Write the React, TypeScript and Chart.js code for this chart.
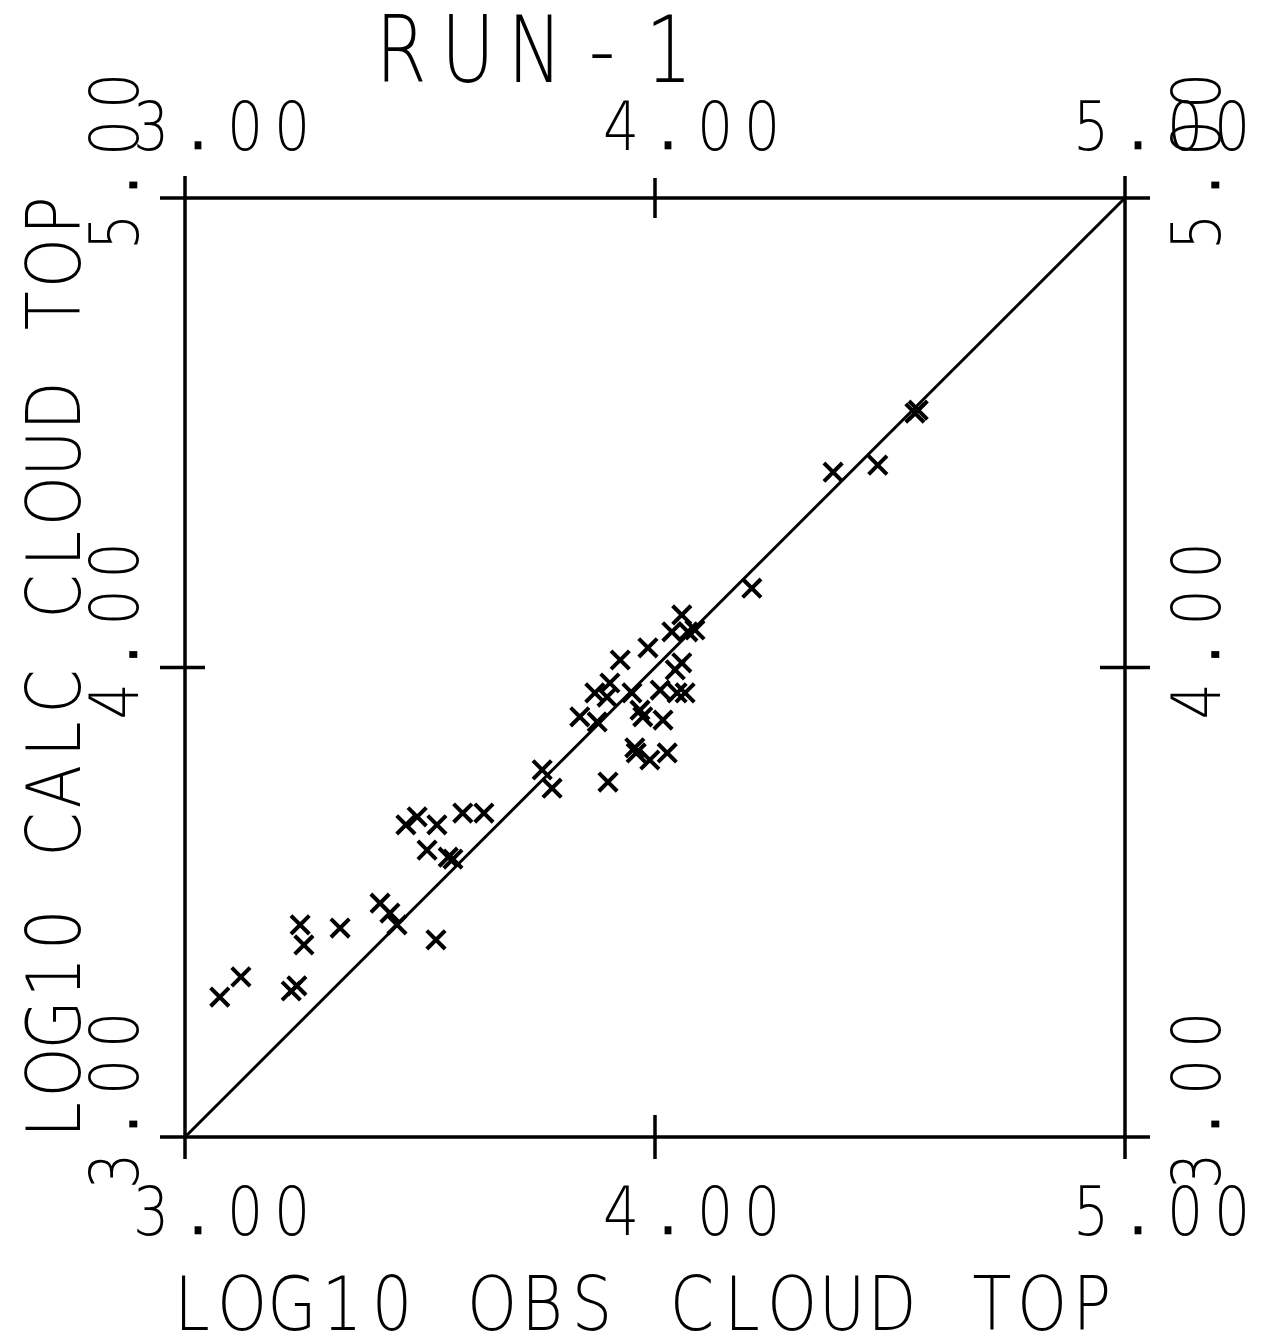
import React, { useEffect, useRef } from "react";
import { Chart, registerables } from "chart.js";

Chart.register(...registerables);

const TITLE = "RUN-1";
const X_TITLE = "LOG10 OBS CLOUD TOP";
const Y_TITLE = "LOG10 CALC CLOUD TOP";
const AXIS_MIN = 3;
const AXIS_MAX = 5;
const TICK_VALUES = [3, 4, 5];
const TICK_LABELS = ["3.00", "4.00", "5.00"];

const OBS_LOG10 = [
  3.074, 3.119, 3.226, 3.238, 3.245, 3.253, 3.33, 3.415, 3.436, 3.451,
  3.534, 3.47, 3.494, 3.536, 3.591, 3.636, 3.515, 3.56, 3.57, 3.76,
  3.781, 3.9, 3.84, 3.877, 3.872, 3.898, 3.904, 3.926, 3.951, 3.985,
  3.968, 3.974, 4.017, 4.011, 4.047, 4.064, 4.043, 4.057, 3.957, 3.96,
  3.989, 4.026, 4.036, 4.057, 4.07, 4.085, 4.206, 4.379, 4.474, 4.56,
  4.553,
];
const CALC_LOG10 = [
  3.298, 3.341, 3.311, 3.322, 3.452, 3.409, 3.445, 3.498, 3.477, 3.452,
  3.42, 3.665, 3.682, 3.665, 3.69, 3.69, 3.611, 3.596, 3.592, 3.782,
  3.743, 3.756, 3.895, 3.884, 3.946, 3.937, 3.967, 4.016, 3.946, 4.042,
  3.909, 3.895, 3.888, 3.952, 3.946, 3.946, 3.995, 4.01, 3.829, 3.818,
  3.803, 3.818, 4.076, 4.112, 4.076, 4.08, 4.169, 4.416, 4.431, 4.548,
  4.542,
];
const LINE_X = [3, 5];
const LINE_Y = [3, 5];

const FONT = "DejaVu Sans";

function drawSpaced(
  ctx: CanvasRenderingContext2D,
  text: string,
  ox: number,
  oy: number,
  pitch: number,
  size: number,
  rotated: boolean,
  squeeze: number
) {
  ctx.save();
  ctx.translate(ox, oy);
  if (rotated) ctx.rotate(-Math.PI / 2);
  ctx.font = `200 ${size}px "${FONT}"`;
  ctx.fillStyle = "#000";
  ctx.textAlign = "center";
  ctx.textBaseline = "alphabetic";
  for (let i = 0; i < text.length; i++) {
    const ch = text[i];
    if (ch === " ") continue;
    ctx.save();
    ctx.translate(i * pitch, 0);
    ctx.scale(squeeze, 1);
    if (ch === ".") {
      ctx.fillRect(-4, -size * 0.13, 8, 8);
    } else {
      ctx.fillText(ch, 0, 0);
    }
    ctx.restore();
  }
  ctx.restore();
}

const framePlugin = {
  id: "framePlugin",
  afterDraw(chart: any) {
    const ctx: CanvasRenderingContext2D = chart.ctx;
    const xs = chart.scales.x;
    const ys = chart.scales.y;
    const xL = xs.getPixelForValue(AXIS_MIN);
    const xR = xs.getPixelForValue(AXIS_MAX);
    const yT = ys.getPixelForValue(AXIS_MAX);
    const yB = ys.getPixelForValue(AXIS_MIN);
    ctx.save();
    ctx.strokeStyle = "#000";
    ctx.lineWidth = 3.5;
    ctx.lineCap = "butt";
    ctx.beginPath();
    // frame
    ctx.moveTo(xL - 25, yT);
    ctx.lineTo(xR + 23, yT);
    ctx.moveTo(xL - 25, yB);
    ctx.lineTo(xR + 23, yB);
    ctx.moveTo(xL, yT - 22);
    ctx.lineTo(xL, yB + 22);
    ctx.moveTo(xR, yT - 22);
    ctx.lineTo(xR, yB + 22);
    // ticks
    TICK_VALUES.forEach((v) => {
      const px = xs.getPixelForValue(v);
      ctx.moveTo(px, yT - 20);
      ctx.lineTo(px, yT + 20);
      ctx.moveTo(px, yB - 22);
      ctx.lineTo(px, yB + 22);
      const py = ys.getPixelForValue(v);
      ctx.moveTo(xL - 25, py);
      ctx.lineTo(xL + 20, py);
      ctx.moveTo(xR - 25, py);
      ctx.lineTo(xR + 25, py);
    });
    ctx.stroke();
    ctx.restore();

    // tick labels
    TICK_VALUES.forEach((v, i) => {
      const lab = TICK_LABELS[i];
      const px = xs.getPixelForValue(v);
      const py = ys.getPixelForValue(v);
      drawSpaced(ctx, lab, px - 34, yT - 48, 47, 67, false, 0.85);
      drawSpaced(ctx, lab, px - 34, yB + 98, 47, 67, false, 0.85);
      drawSpaced(ctx, lab, xL - 47, py + 34, 47, 67, true, 0.85);
      drawSpaced(ctx, lab, xR + 95, py + 34, 47, 67, true, 0.85);
    });

    // titles
    drawSpaced(ctx, TITLE, 401, 82, 67, 92, false, 0.8);
    drawSpaced(ctx, X_TITLE, 192, 1330, 50, 75, false, 0.85);
    drawSpaced(ctx, Y_TITLE, 80, 1120, 47.6, 75, true, 0.85);
  },
};

export default function App() {
  const ref = useRef<HTMLCanvasElement | null>(null);
  useEffect(() => {
    if (!ref.current) return;
    const points = OBS_LOG10.map((x, i) => ({ x, y: CALC_LOG10[i] }));
    const line = LINE_X.map((x, i) => ({ x, y: LINE_Y[i] }));
    const chart = new Chart(ref.current, {
      type: "scatter",
      data: {
        datasets: [
          {
            label: "1:1",
            type: "line",
            data: line,
            borderColor: "#000",
            borderWidth: 3,
            pointRadius: 0,
            fill: false,
          } as any,
          {
            label: "RUN-1",
            data: points,
            pointStyle: "crossRot",
            pointRadius: 13,
            pointBorderWidth: 4,
            borderWidth: 4,
            borderColor: "#000",
            backgroundColor: "#000",
          } as any,
        ],
      },
      options: {
        animation: false,
        responsive: false,
        maintainAspectRatio: false,
        devicePixelRatio: 1,
        layout: { padding: { left: 185, top: 198, right: 137, bottom: 201 } },
        plugins: { legend: { display: false }, tooltip: { enabled: false } },
        scales: {
          x: { type: "linear", min: AXIS_MIN, max: AXIS_MAX, display: false },
          y: { type: "linear", min: AXIS_MIN, max: AXIS_MAX, display: false },
        },
      },
      plugins: [framePlugin],
    });
    return () => chart.destroy();
  }, []);
  return (
    <div style={{ position: "absolute", left: 0, top: 0, width: 1262, height: 1338, background: "#fff" }}>
      <canvas ref={ref} width={1262} height={1338} style={{ width: 1262, height: 1338, display: "block" }} />
    </div>
  );
}
